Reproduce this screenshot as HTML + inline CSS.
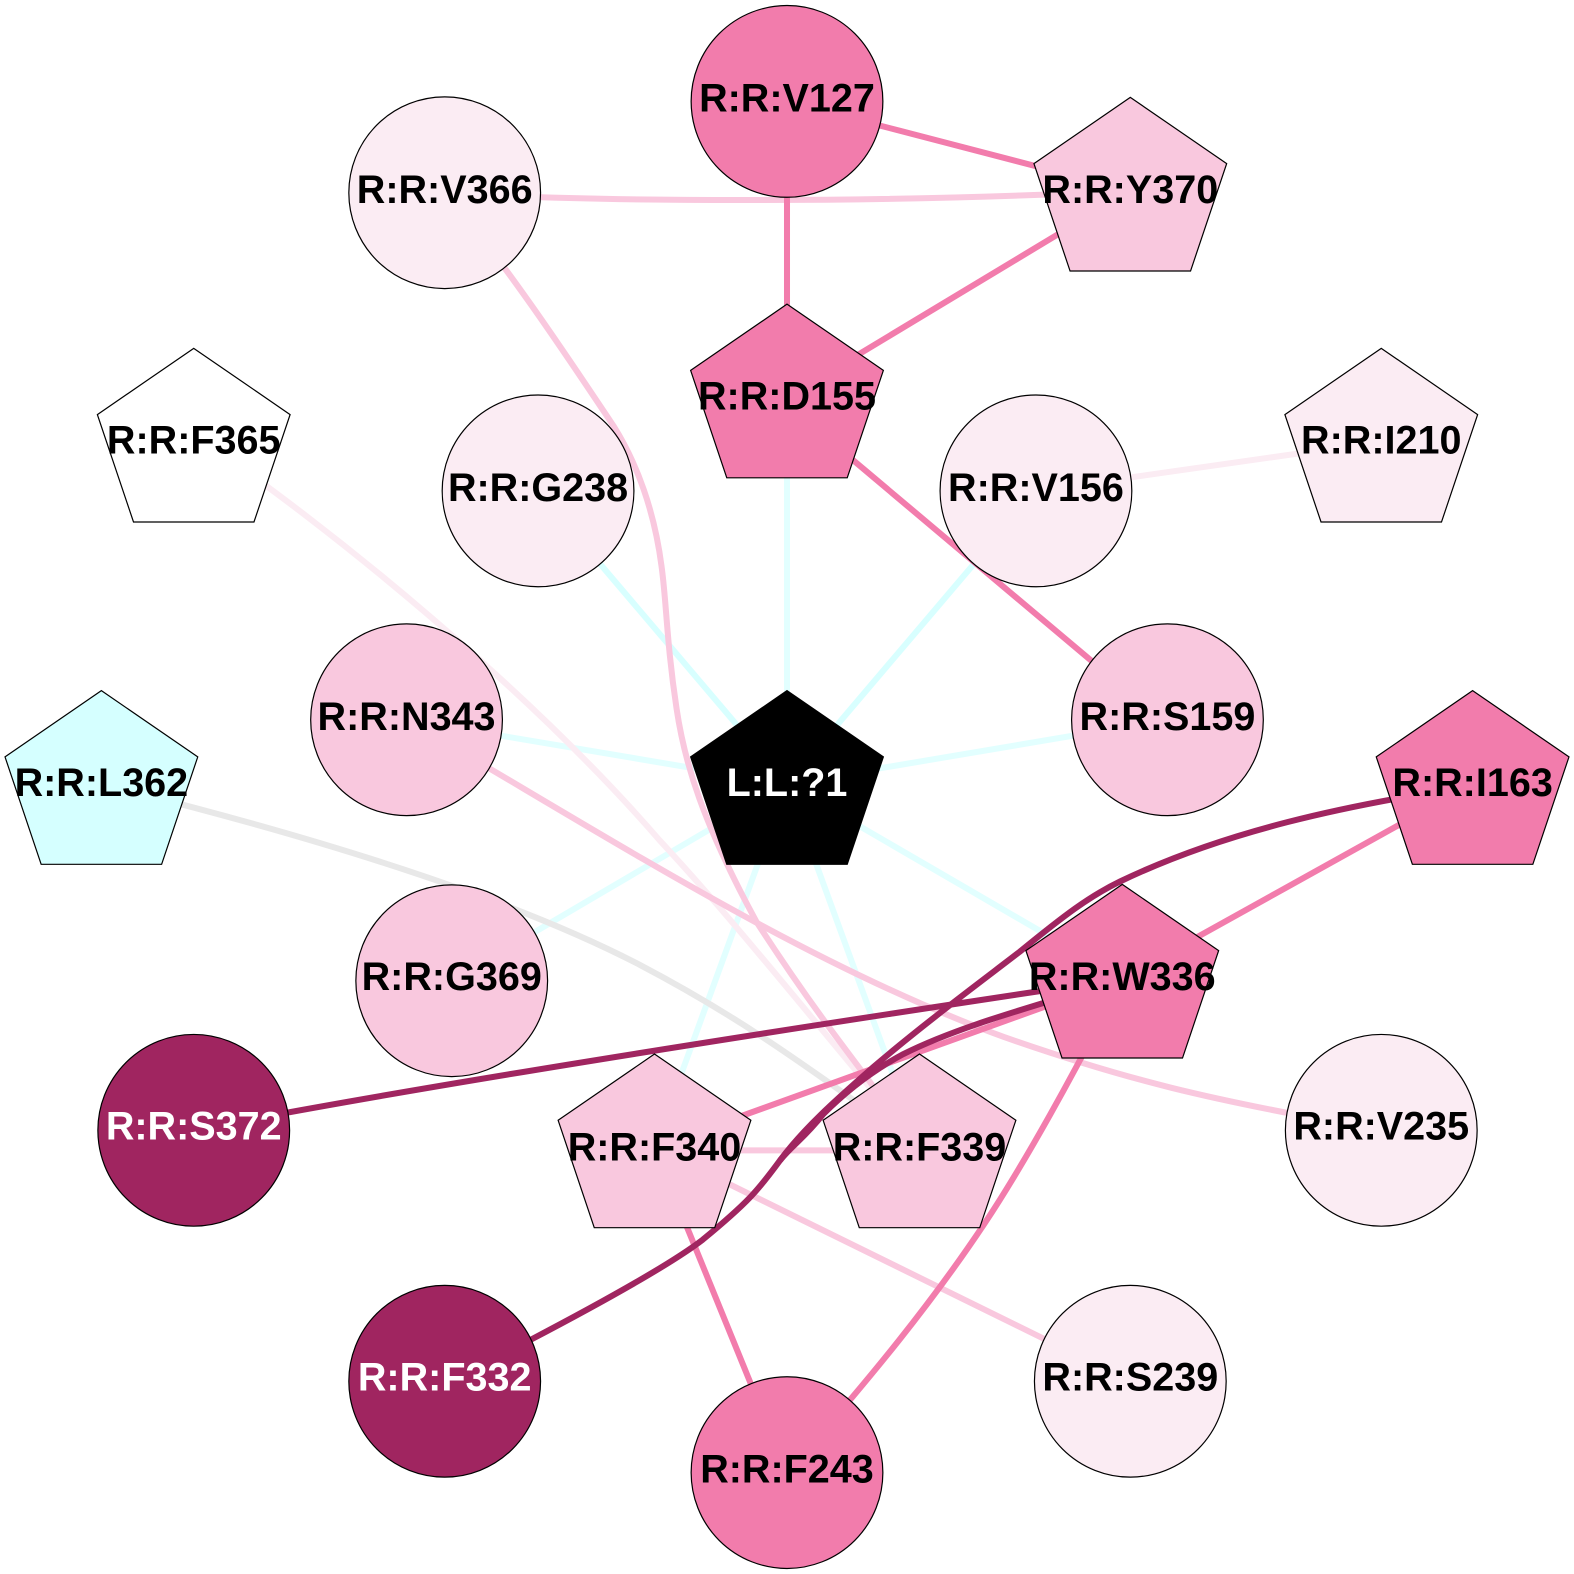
<!DOCTYPE html>
<html><head><meta charset="utf-8"><style>
html,body{margin:0;padding:0;background:#fff}
svg{display:block}
text{font-family:"Liberation Sans",sans-serif;font-weight:bold;font-size:39.4px;text-anchor:middle;fill:#000}
.e{fill:none;stroke-width:6}
.n{stroke:#000;stroke-width:1.2}
</style></head><body>
<svg xmlns="http://www.w3.org/2000/svg" width="1574" height="1574" viewBox="0 0 1568 1568">
<rect width="1568" height="1568" fill="#fff"/>
<g class="edges">
<g stroke="#d8ffff" class="e">
<path class="e" d="M536,489L784,781"/>
<path class="e" d="M1032,489L784,781"/>
</g>
<g stroke="#e2ffff">
<path class="e" d="M784,390L784,781"/>
<path class="e" d="M405,717L784,781"/>
<path class="e" d="M1163,717L784,781"/>
<path class="e" d="M450,977L784,781"/>
<path class="e" d="M784,781L1118,975"/>
<path class="e" d="M784,781L652,1143"/>
<path class="e" d="M784,781L916,1143"/>
</g>
<path class="e" stroke="#fbecf3" d="M1032,489L1376,440"/>
<path class="e" stroke="#fbecf3" d="M193,433C330,525 530,690 657,837C720,905 760,955 916,1143"/>
<path class="e" stroke="#e8e8e8" d="M101,781C300,830 500,890 637,961C740,1015 800,1060 916,1143"/>
<g stroke="#f9c8de">
<path class="e" d="M443,192C600,202 900,202 1126,190"/>
<path class="e" d="M443,192C495,250 565,355 611,424C635,462 652,510 659,564C664,600 664,640 674,706C682,760 700,820 754,919C800,990 830,1030 916,1143"/>
<path class="e" d="M405,717C600,830 800,960 1000,1033C1120,1075 1200,1095 1376,1126"/>
<path class="e" d="M652,1146L916,1146"/>
<path class="e" d="M652,1143L1126,1376"/>
</g>
<g stroke="#f27cac">
<path class="e" d="M784,101L1126,190"/>
<path class="e" d="M784,101L784,396"/>
<path class="e" d="M784,396L1126,190"/>
<path class="e" d="M784,403L1163,722"/>
<path class="e" d="M1467,781L1118,975"/>
<path class="e" d="M1118,975L652,1143"/>
<path class="e" d="M652,1143L784,1467"/>
<path class="e" d="M1118,975C1070,1070 1020,1160 980,1220C930,1295 870,1370 784,1467"/>
</g>
<g stroke="#a02560">
<path class="e" d="M193,1126C400,1085 750,1030 1118,975"/>
<path class="e" d="M1467,783C1340,802 1220,828 1116,878C1085,893 1060,912 1016,948C985,972 920,1020 870,1063C830,1098 800,1125 777,1156C755,1186 745,1198 700,1235C670,1258 610,1292 528,1335L443,1376"/>
<path class="e" d="M1118,975C1040,1000 960,1020 900,1050C870,1066 845,1085 820,1110C800,1135 790,1140 777,1156"/>
</g>
</g>
<g class="n">
<circle cx="784" cy="101" r="95.5" fill="#f27cac"/>
<circle cx="443" cy="192" r="95.5" fill="#fbecf3"/>
<circle cx="536" cy="489" r="95.5" fill="#fbecf3"/>
<circle cx="1032" cy="489" r="95.5" fill="#fbecf3"/>
<circle cx="405" cy="717" r="95.5" fill="#f9c8de"/>
<circle cx="1163" cy="717" r="95.5" fill="#f9c8de"/>
<circle cx="450" cy="977" r="95.5" fill="#f9c8de"/>
<circle cx="193" cy="1126" r="95.5" fill="#a02560"/>
<circle cx="1376" cy="1126" r="95.5" fill="#fbecf3"/>
<circle cx="443" cy="1376" r="95.5" fill="#a02560"/>
<circle cx="1126" cy="1376" r="95.5" fill="#fbecf3"/>
<circle cx="784" cy="1467" r="95.5" fill="#f27cac"/>
<polygon fill="#f9c8de" points="1126,97 1222,163 1186,270 1066,270 1030,163"/>
<polygon fill="#f27cac" points="784,303 880,369 844,476 724,476 688,369"/>
<polygon fill="#ffffff" points="193,347 289,413 253,520 133,520 97,413"/>
<polygon fill="#fbecf3" points="1376,347 1472,413 1436,520 1316,520 1280,413"/>
<polygon fill="#000000" points="784,688 880,754 844,861 724,861 688,754"/>
<polygon fill="#d5ffff" points="101,688 197,754 161,861 41,861 5,754"/>
<polygon fill="#f27cac" points="1467,688 1563,754 1527,861 1407,861 1371,754"/>
<polygon fill="#f27cac" points="1118,881 1214,947 1178,1054 1058,1054 1022,947"/>
<polygon fill="#f9c8de" points="652,1050 748,1116 712,1223 592,1223 556,1116"/>
<polygon fill="#f9c8de" points="916,1050 1012,1116 976,1223 856,1223 820,1116"/>
</g>
<text x="784" y="111">R:R:V127</text>
<text x="443" y="202">R:R:V366</text>
<text x="1126" y="202">R:R:Y370</text>
<text x="784" y="408">R:R:D155</text>
<text x="193" y="452">R:R:F365</text>
<text x="536" y="499">R:R:G238</text>
<text x="1032" y="499">R:R:V156</text>
<text x="1376" y="452">R:R:I210</text>
<text x="405" y="727">R:R:N343</text>
<text x="1163" y="727">R:R:S159</text>
<text x="101" y="793">R:R:L362</text>
<text x="784" y="793" style="fill:#fff">L:L:?1</text>
<text x="1467" y="793">R:R:I163</text>
<text x="450" y="986">R:R:G369</text>
<text x="1118" y="986">R:R:W336</text>
<text x="193" y="1135" style="fill:#fff">R:R:S372</text>
<text x="652" y="1156">R:R:F340</text>
<text x="916" y="1156">R:R:F339</text>
<text x="1376" y="1135">R:R:V235</text>
<text x="443" y="1385" style="fill:#fff">R:R:F332</text>
<text x="1126" y="1385">R:R:S239</text>
<text x="784" y="1477">R:R:F243</text>
</svg>
</body></html>
